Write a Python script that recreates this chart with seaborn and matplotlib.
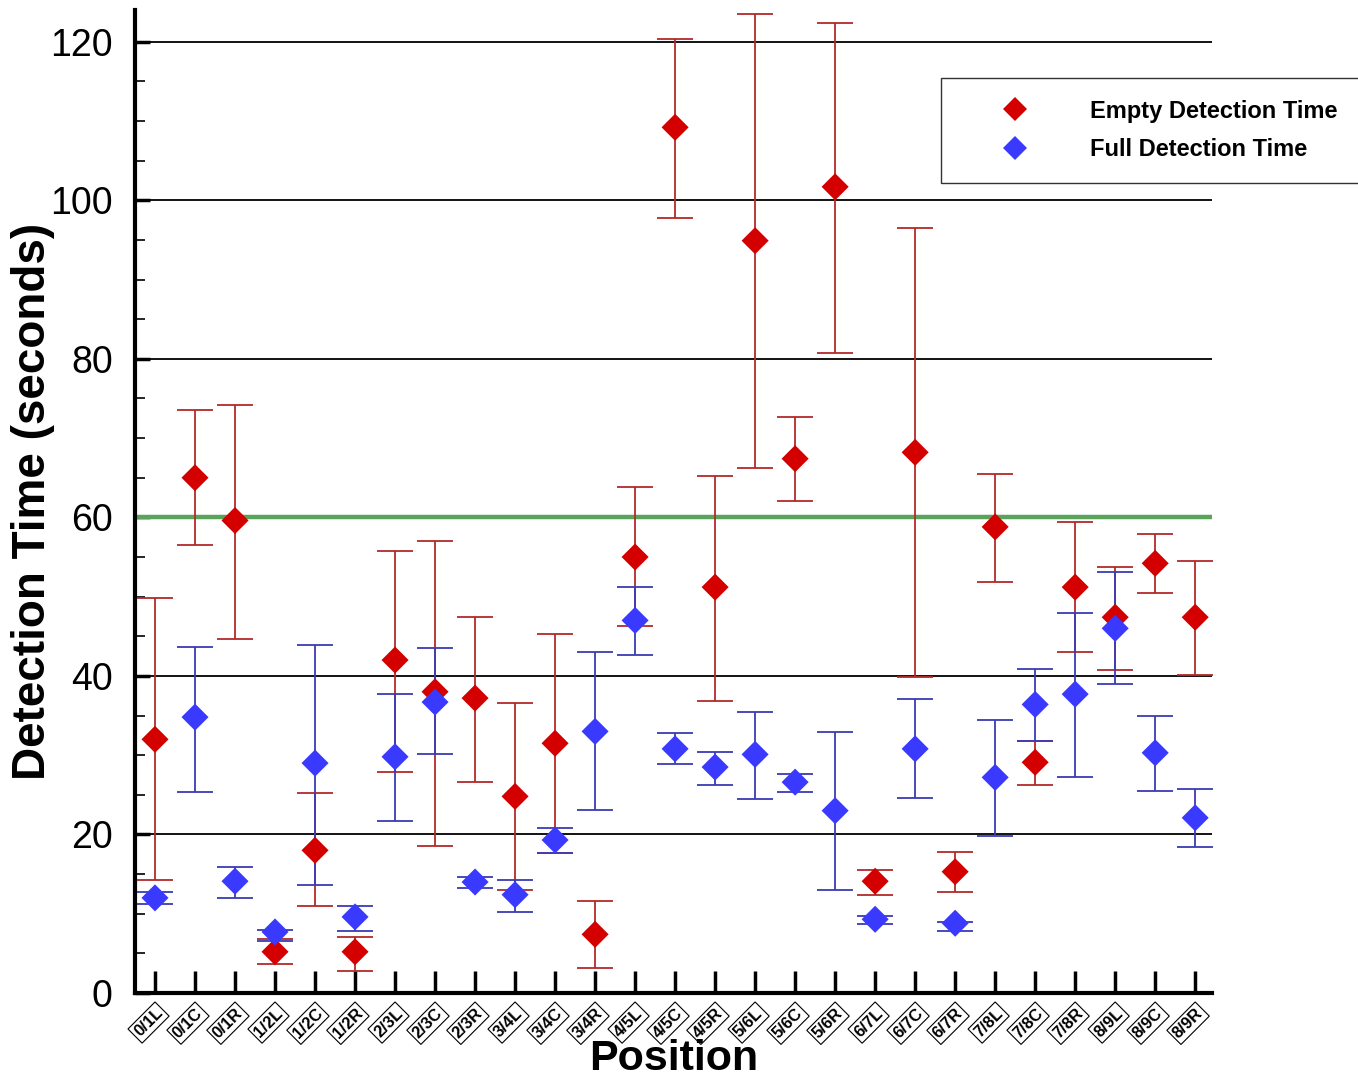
"""Detection time per position: empty vs full, mean with min/max range bars."""
import matplotlib

matplotlib.use("Agg")

import matplotlib.pyplot as plt
import numpy as np
import pandas as pd
import seaborn as sns
from matplotlib.ticker import MultipleLocator

positions = ["0/1L", "0/1C", "0/1R", "1/2L", "1/2C", "1/2R", "2/3L", "2/3C", "2/3R",
             "3/4L", "3/4C", "3/4R", "4/5L", "4/5C", "4/5R", "5/6L", "5/6C", "5/6R",
             "6/7L", "6/7C", "6/7R", "7/8L", "7/8C", "7/8R", "8/9L", "8/9C", "8/9R"]

empty_mean = [32.0, 65.0, 59.6, 5.2, 18.0, 5.2, 42.0, 38.0, 37.2,
              24.8, 31.5, 7.4, 55.0, 109.2, 51.2, 94.9, 67.4, 101.7,
              14.1, 68.2, 15.3, 58.8, 29.1, 51.2, 47.4, 54.2, 47.4]
empty_low = [14.2, 56.5, 44.7, 3.7, 11.0, 2.8, 27.9, 18.5, 26.6,
             13.0, 17.6, 3.2, 46.3, 97.8, 36.8, 66.2, 62.1, 80.7,
             12.4, 39.8, 12.8, 51.8, 26.2, 43.0, 40.7, 50.4, 40.1]
empty_high = [49.8, 73.6, 74.2, 6.8, 25.2, 7.1, 55.7, 57.0, 47.4,
              36.6, 45.3, 11.6, 63.8, 120.3, 65.2, 123.5, 72.6, 122.3,
              15.5, 96.5, 17.8, 65.5, 31.8, 59.4, 53.8, 57.9, 54.5]

full_mean = [12.0, 34.8, 14.1, 7.7, 29.0, 9.6, 29.8, 36.7, 14.0,
             12.4, 19.3, 33.0, 47.0, 30.8, 28.5, 30.1, 26.6, 23.0,
             9.3, 30.8, 8.8, 27.2, 36.4, 37.7, 46.0, 30.3, 22.1]
full_low = [11.2, 25.3, 12.0, 6.5, 13.6, 7.8, 21.7, 30.1, 13.2,
            10.2, 17.7, 23.1, 42.6, 28.9, 26.3, 24.5, 25.3, 13.0,
            8.7, 24.6, 7.8, 19.8, 31.8, 27.3, 39.0, 25.5, 18.4]
full_high = [12.7, 43.6, 15.9, 8.0, 43.9, 11.0, 37.7, 43.5, 14.6,
             14.2, 20.8, 43.0, 51.2, 32.8, 30.4, 35.4, 27.6, 32.9,
             9.7, 37.1, 9.0, 34.5, 40.9, 47.9, 53.1, 34.9, 25.7]

series_names = ["Empty Detection Time", "Full Detection Time"]
threshold = 60

marker_colors = {"Empty Detection Time": "#d40000", "Full Detection Time": "#3a3aff"}
bar_colors = {"Empty Detection Time": "#b22a2a", "Full Detection Time": "#3c3cb4"}

df = pd.concat([
    pd.DataFrame({"Position": positions, "Time": empty_mean, "Low": empty_low,
                  "High": empty_high, "Series": series_names[0]}),
    pd.DataFrame({"Position": positions, "Time": full_mean, "Low": full_low,
                  "High": full_high, "Series": series_names[1]}),
], ignore_index=True)

sns.set_style("white")
plt.rcParams["font.family"] = ["Liberation Sans", "DejaVu Sans"]
for key in ["text.color", "axes.labelcolor", "xtick.color", "ytick.color"]:
    plt.rcParams[key] = "black"

fig = plt.figure(figsize=(13.58, 10.81), dpi=100)
ax = fig.add_axes([135 / 1358, 1 - 993 / 1081, (1212 - 135) / 1358, (993 - 10) / 1081])

x_idx = np.arange(len(positions))
for name in series_names:
    sub = df[df["Series"] == name]
    ax.errorbar(x_idx, sub["Time"], yerr=[sub["Time"] - sub["Low"], sub["High"] - sub["Time"]],
                fmt="none", ecolor=bar_colors[name], elinewidth=1.3, capsize=13,
                capthick=1.3, zorder=3)

df["x"] = df["Position"].map({p: i for i, p in enumerate(positions)})
sns.scatterplot(data=df, x="x", y="Time", hue="Series", palette=marker_colors,
                marker="D", s=190, edgecolor="none", zorder=4, ax=ax)

# reference lines
for yv in range(20, 121, 20):
    ax.axhline(yv, color="black", lw=1.3, zorder=1)
ax.axhline(threshold, color="#5aa35a", lw=3.2, zorder=2)

ax.set_xlim(-0.5, 26.42)
ax.set_ylim(0, 124)
ax.yaxis.set_major_locator(MultipleLocator(20))
ax.yaxis.set_minor_locator(MultipleLocator(5))
ax.set_xticks(x_idx)
ax.set_xticklabels(positions, rotation=45, ha="right", va="top", rotation_mode="anchor",
                   fontsize=12, fontweight="bold",
                   bbox=dict(boxstyle="square,pad=0.15", fc="white", ec="black", lw=0.8))

ax.tick_params(axis="y", which="major", direction="in", length=11, width=2.5,
               labelsize=27, pad=16, left=True)
ax.tick_params(axis="y", which="minor", direction="in", length=7, width=1.2, left=True)
ax.tick_params(axis="x", which="major", direction="in", length=16, width=2.5,
               pad=9, bottom=True)

for side in ["top", "right"]:
    ax.spines[side].set_visible(False)
for side in ["left", "bottom"]:
    ax.spines[side].set_linewidth(3)
    ax.spines[side].set_color("black")

ax.set_ylabel("Detection Time (seconds)", fontsize=33, fontweight="bold")
ax.yaxis.set_label_coords(-0.074, 0.5)
ax.set_xlabel("Position", fontsize=31, fontweight="bold")
ax.xaxis.set_label_coords(0.5, -0.047)

handles, labels = ax.get_legend_handles_labels()
ax.get_legend().remove()
leg = fig.legend(handles, labels, loc="upper left",
                 bbox_to_anchor=(941 / 1358, 1 - 78 / 1081), frameon=True,
                 fancybox=False, edgecolor="black",
                 prop={"weight": "bold", "size": 17}, handletextpad=1.0,
                 borderpad=0.92, labelspacing=0.64, borderaxespad=0, markerscale=0.85,
                 handlelength=4.4)
leg.get_frame().set_linewidth(1.0)

fig.savefig("out.png", dpi=100)
plt.close(fig)
